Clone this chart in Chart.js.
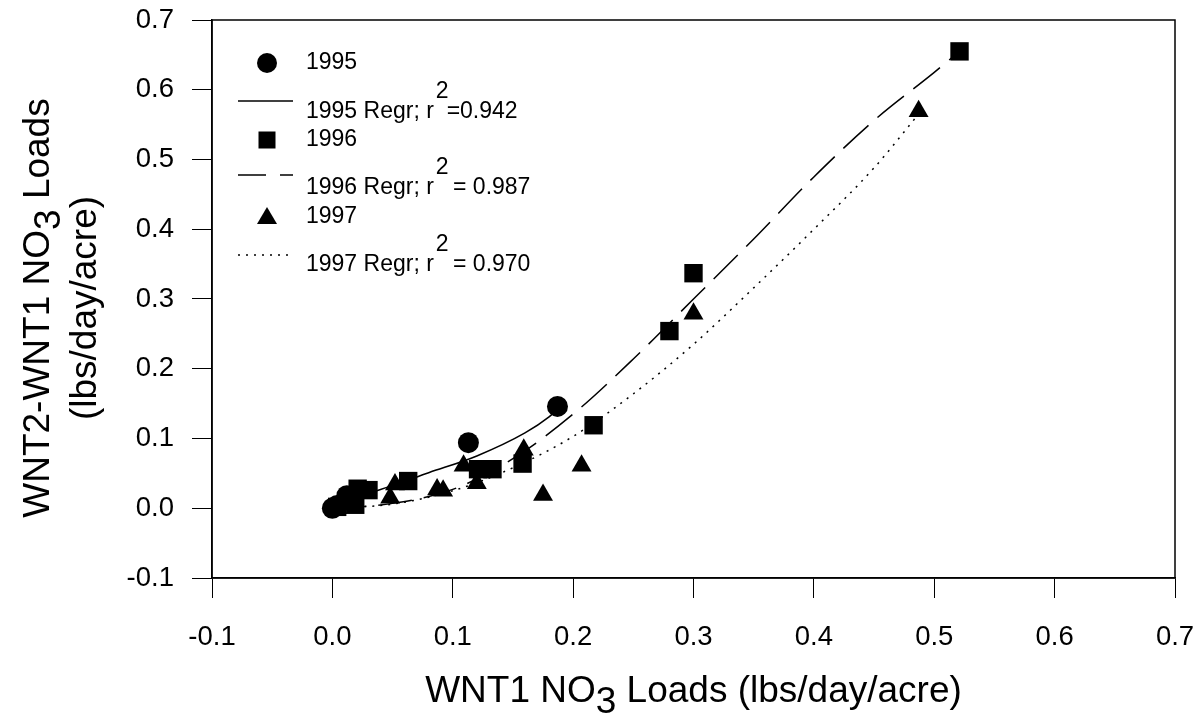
<!DOCTYPE html>
<html>
<head>
<meta charset="utf-8">
<script src="https://cdn.jsdelivr.net/npm/chart.js@4.4.1/dist/chart.umd.min.js"></script>
<style>
  html, body { margin: 0; padding: 0; background: #fff; }
  #wrap { position: relative; width: 1201px; height: 719px; font-family: "Liberation Sans", Arial, sans-serif; color: #000; }
  #chart { position: absolute; left: 0; top: 0; }
  .xtitle { position: absolute; left: 212px; width: 963px; top: 669px; text-align: center; font-size: 37px; white-space: nowrap; }
  .ytitle { position: absolute; left: 60px; top: 308px; width: 600px; margin-left: -300px; text-align: center;
            font-size: 37px; line-height: 47px; white-space: nowrap; transform: translateY(-50%) rotate(-90deg); }
  sub { font-size: 1em; vertical-align: -0.3em; line-height: 0; }
</style>
</head>
<body>
<div id="wrap">
  <canvas id="chart" width="1201" height="719"></canvas>
  <div class="xtitle">WNT1 NO<sub>3</sub> Loads (lbs/day/acre)</div>
  <div class="ytitle">WNT2-WNT1 NO<sub>3</sub> Loads<br>(lbs/day/acre)</div>
</div>
<script>
// --- data ---
const ticks = [-0.1, 0.0, 0.1, 0.2, 0.3, 0.4, 0.5, 0.6, 0.7];

const x1995 = [0.000, 0.004, 0.012, 0.113, 0.187];
const y1995 = [0.000, 0.004, 0.018, 0.094, 0.146];
const x1996 = [0.004, 0.019, 0.021, 0.030, 0.063, 0.121, 0.133, 0.158, 0.217, 0.280, 0.300, 0.521];
const y1996 = [0.002, 0.005, 0.028, 0.026, 0.039, 0.056, 0.056, 0.064, 0.119, 0.254, 0.337, 0.655];
const x1997 = [0.004, 0.048, 0.052, 0.087, 0.092, 0.109, 0.120, 0.159, 0.175, 0.207, 0.300, 0.487];
const y1997 = [0.000, 0.015, 0.034, 0.027, 0.025, 0.061, 0.036, 0.084, 0.019, 0.061, 0.279, 0.569];

// regression curves, points
const xReg1995 = [0.000, 0.040, 0.080, 0.120, 0.160, 0.180, 0.187];
const yReg1995 = [0.006, 0.027, 0.051, 0.075, 0.108, 0.131, 0.142];
const xReg1996 = [0.000, 0.050, 0.100, 0.150, 0.200, 0.250, 0.300, 0.350, 0.400, 0.450, 0.500, 0.521];
const yReg1996 = [0.000, 0.007, 0.027, 0.071, 0.135, 0.214, 0.300, 0.386, 0.475, 0.556, 0.625, 0.655];
const xReg1997 = [0.000, 0.050, 0.100, 0.150, 0.200, 0.250, 0.300, 0.350, 0.400, 0.450, 0.487];
const yReg1997 = [0.000, 0.006, 0.025, 0.058, 0.103, 0.164, 0.235, 0.316, 0.400, 0.488, 0.565];

const legendItems = [
  { kind: 'circle', text: '1995' },
  { kind: 'solid', text: '1995 Regr; r', sup: '2', rest: '=0.942' },
  { kind: 'rect', text: '1996' },
  { kind: 'dash', text: '1996 Regr; r', sup: '2', rest: ' = 0.987' },
  { kind: 'triangle', text: '1997' },
  { kind: 'dot', text: '1997 Regr; r', sup: '2', rest: ' = 0.970' }
];

const pts = (xs, ys) => xs.map((x, i) => ({ x, y: ys[i] }));
const FONT = '"Liberation Sans", Arial, sans-serif';

// box round the plot area
const frame = {
  id: 'frame',
  afterDraw(chart) {
    const { ctx, chartArea: a } = chart;
    ctx.save();
    ctx.strokeStyle = '#000';
    ctx.lineWidth = 1.5;
    ctx.strokeRect(a.left, a.top, a.right - a.left, a.bottom - a.top);
    ctx.restore();
  }
};

// legend drawn by hand, superscripts and all
const legendRows = [63, 101, 140, 175, 217, 255];
const legendTextRows = [63, 112, 140, 188, 217, 265];
const legend = {
  id: 'handLegend',
  afterDraw(chart) {
    const ctx = chart.ctx;
    ctx.save();
    ctx.fillStyle = '#000';
    ctx.strokeStyle = '#000';
    ctx.font = '23px ' + FONT;
    ctx.textBaseline = 'middle';
    legendItems.forEach((it, i) => {
      const y = legendRows[i], cx = 267;
      ctx.beginPath();
      if (it.kind === 'circle') {
        ctx.arc(cx, y, 10, 0, Math.PI * 2); ctx.fill();
      } else if (it.kind === 'rect') {
        ctx.fillRect(cx - 8.5, y - 8.5, 17, 17);
      } else if (it.kind === 'triangle') {
        ctx.moveTo(cx, y - 10); ctx.lineTo(cx + 10, y + 7); ctx.lineTo(cx - 10, y + 7);
        ctx.closePath(); ctx.fill();
      } else {
        ctx.lineWidth = 1.5;
        ctx.setLineDash(it.kind === 'dash' ? [28, 14] : it.kind === 'dot' ? [2, 6] : []);
        ctx.moveTo(238, y); ctx.lineTo(293, y); ctx.stroke();
        ctx.setLineDash([]);
      }
      const ty = legendTextRows[i];
      let x = 306;
      ctx.fillText(it.text, x, ty);
      if (it.sup) {
        x += ctx.measureText(it.text).width + 2;
        ctx.fillText(it.sup, x, ty - 20);
        x += ctx.measureText(it.sup).width - 2;
        ctx.fillText(it.rest, x, ty);
      }
    });
    ctx.restore();
  }
};

const scaleOpts = (isX) => ({
  type: 'linear',
  min: -0.1,
  max: 0.7,
  afterBuildTicks: (s) => { s.ticks = ticks.map(v => ({ value: v })); },
  afterFit: (s) => {
    if (isX) s.height = 141; else s.width = 212;
    // let layout.padding alone decide the plot box
    s.paddingLeft = s.paddingRight = s.paddingTop = s.paddingBottom = 0;
  },
  ticks: {
    color: '#000',
    font: { family: FONT, size: 27.5 },
    padding: isX ? 23 : 18,
    maxRotation: 0,
    callback: (v) => (Math.abs(v) < 1e-9 ? 0 : v).toFixed(1)
  },
  grid: { drawOnChartArea: false, drawTicks: true, tickLength: 20, color: '#000', lineWidth: 1 },
  border: { display: true, color: '#000', width: 1.5 }
});

const lineDs = (xs, ys, dash) => ({
  type: 'line',
  data: pts(xs, ys),
  borderColor: '#000',
  borderWidth: 1.5,
  borderDash: dash,
  pointRadius: 0,
  fill: false,
  cubicInterpolationMode: 'monotone'
});

const pointDs = (xs, ys, style, r) => ({
  type: 'scatter',
  data: pts(xs, ys),
  pointStyle: style,
  pointRadius: r,
  pointHoverRadius: r,
  backgroundColor: '#000',
  borderColor: '#000',
  borderWidth: 0
});

new Chart(document.getElementById('chart'), {
  type: 'scatter',
  data: {
    datasets: [
      pointDs(x1995, y1995, 'circle', 10.5),
      pointDs(x1996, y1996, 'rect', 13),
      pointDs(x1997, y1997, 'triangle', 11.5),
      lineDs(xReg1995, yReg1995, []),
      lineDs(xReg1996, yReg1996, [34, 12]),
      lineDs(xReg1997, yReg1997, [2, 6])
    ]
  },
  options: {
    responsive: false,
    animation: false,
    layout: { padding: { left: 0, top: 20, right: 26, bottom: 0 } },
    plugins: { legend: { display: false }, tooltip: { enabled: false } },
    scales: { x: scaleOpts(true), y: scaleOpts(false) }
  },
  plugins: [frame, legend]
});
</script>
</body>
</html>
